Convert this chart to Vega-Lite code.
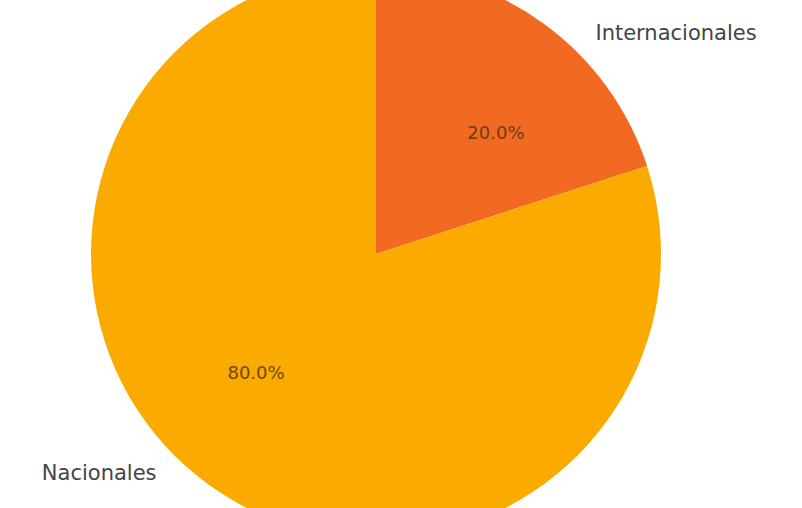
{
  "$schema": "https://vega.github.io/schema/vega-lite/v6.json",
  "width": 752,
  "height": 508,
  "padding": {"left": 0, "top": 0, "right": 50, "bottom": 0},
  "autosize": {"type": "none"},
  "background": "white",
  "config": {"view": {"stroke": null}, "text": {"font": "DejaVu Sans"}},
  "data": {"values": [
    {"categoria": "Internacionales", "porcentaje": 20.0, "etiqueta": "20.0%"},
    {"categoria": "Nacionales", "porcentaje": 80.0, "etiqueta": "80.0%"}
  ]},
  "encoding": {
    "theta": {"field": "porcentaje", "type": "quantitative", "stack": true},
    "detail": {"field": "categoria", "type": "nominal"}
  },
  "layer": [
    {
      "mark": {"type": "arc", "radius": 285},
      "encoding": {
        "color": {"field": "categoria", "type": "nominal",
          "scale": {"domain": ["Internacionales", "Nacionales"], "range": ["#F26A22", "#FBAA00"]},
          "legend": null}
      }
    },
    {
      "mark": {"type": "text", "radius": 170, "thetaOffset": 0.155, "fontSize": 18, "fill": "#5a3510", "opacity": 0.85},
      "encoding": {"text": {"field": "etiqueta"}}
    },
    {
      "mark": {"type": "text", "radius": 311, "thetaOffset": 0.155, "fontSize": 21, "align": "left", "fill": "#444444"},
      "encoding": {"text": {"condition": {"test": "datum.categoria === 'Internacionales'", "field": "categoria"}, "value": ""}}
    },
    {
      "mark": {"type": "text", "radius": 311, "thetaOffset": 0.155, "fontSize": 21, "align": "right", "fill": "#444444"},
      "encoding": {"text": {"condition": {"test": "datum.categoria === 'Nacionales'", "field": "categoria"}, "value": ""}}
    }
  ]
}
